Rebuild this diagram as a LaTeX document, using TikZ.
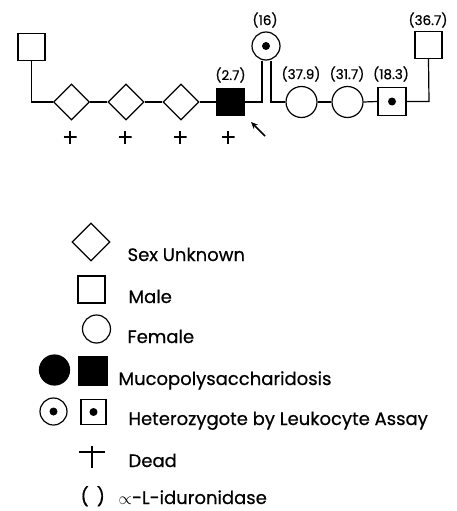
\documentclass[tikz,border=0pt]{standalone}
\usepackage{fontspec}
\setmainfont{Poppins}
\newfontfamily\legfont{Poppins}[FakeBold=0.6]
\usetikzlibrary{shapes.geometric,arrows.meta}
\begin{document}
\begin{tikzpicture}[x=1pt,y=-1pt,line width=1.2pt,
  sqbox/.style={draw,rectangle,inner sep=0pt,minimum size=#1},
  circ/.style={draw,circle,inner sep=0pt,minimum size=#1},
  dia/.style={draw,diamond,inner sep=0pt,minimum size=#1},
  dotc/.style={fill,circle,inner sep=0pt,minimum size=8pt},
  val/.style={font=\legfont\fontsize{13.5}{15}\selectfont},
  leg/.style={anchor=base west,inner sep=0pt,font=\legfont\fontsize{18}{21}\selectfont},
  deadmark/.style={inner sep=0pt,minimum size=13pt,path picture={
     \draw[line width=1.1pt] (path picture bounding box.west) -- (path picture bounding box.east);
     \draw[line width=1.1pt] (path picture bounding box.north) -- (path picture bounding box.south);}}
]
\useasboundingbox (0,0) rectangle (456,511);
% pedigree
\node[sqbox=27pt] (sqA) at (31.5,47) {};
\node[dia=36pt] (d1) at (71.5,102) {};
\node[dia=36pt] (d2) at (126,102) {};
\node[dia=36pt] (d3) at (181,102) {};
\node[sqbox=27pt,fill] (fsq) at (230.5,102) {};
\node[circ=28pt] (c16) at (266,46) {};
\node[dotc] (c16d) at (266,46) {};
\node[circ=31pt] (c1) at (301.5,102) {};
\node[circ=31pt] (c2) at (347.5,102) {};
\node[sqbox=28pt] (sqd) at (392,101.5) {};
\node[dotc] (sqdd) at (392,101.5) {};
\node[sqbox=27pt] (sqB) at (428.5,45) {};
\coordinate (j1) at (31.5,102);
\coordinate (j2) at (262,102);
\coordinate (j3) at (271,102);
\coordinate (j4) at (429,101.5);
\draw (sqA.south) -- (j1) -- (d1.west);
\draw (d1.east) -- (d2.west);
\draw (d2.east) -- (d3.west);
\draw (d3.east) -- (fsq.west);
\draw (fsq.east) -- (j2) -- (j2 |- c16.south);
\draw (j3 |- c16.south) -- (j3) -- (c1.west);
\draw (c1.east) -- (c2.west);
\draw (c2.east) -- (sqd.west);
\draw (sqd.east) -- (j4) -- (sqB.south);
\node[val] (l27) at (230.5,75) {(2.7)};
\node[val] (l16) at (265,20) {(16)};
\node[val] (l379) at (301,74) {(37.9)};
\node[val] (l317) at (347,74) {(31.7)};
\node[val] (l183) at (391,74) {(18.3)};
\node[val] (l367) at (428,20) {(36.7)};
\node[deadmark] (p1) at (70,137) {};
\node[deadmark] (p2) at (125,137) {};
\node[deadmark] (p3) at (180,137) {};
\node[deadmark] (p4) at (228,137) {};
\coordinate (atail) at (265,136);
\coordinate (ahead) at (251,122);
\draw[line width=1.5pt,-{Stealth[length=7pt,width=6pt]}] (atail) -- (ahead);
% legend
\node[dia=38pt] (ld) at (91,242) {};
\node[sqbox=27pt] (lsq) at (91.5,289.5) {};
\node[circ=28pt] (lc) at (96.5,329) {};
\node[circ=30pt,fill] (lfc) at (54.5,370) {};
\node[sqbox=28pt,fill] (lfs) at (93,371) {};
\node[circ=27pt] (ldc) at (53.5,411.5) {};
\node[dotc] (ldcd) at (53.5,411.5) {};
\node[sqbox=25pt] (lds) at (93.5,412) {};
\node[dotc] (ldsd) at (93.5,412) {};
\coordinate (pl) at (79,452);
\coordinate (pr) at (105,452);
\coordinate (pt) at (92,446);
\coordinate (pb) at (92,468);
\draw[line width=1.1pt] (pl) -- (pr);
\draw[line width=1.1pt] (pt) -- (pb);
\node[leg] (tparen) at (80,503) {(\hspace{8pt})};
\node[leg] (t1) at (127,261) {Sex Unknown};
\node[leg] (t2) at (128,303) {Male};
\node[leg] (t3) at (127,343) {Female};
\node[leg] (t4) at (118,385) {Mucopolysaccharidosis};
\node[leg] (t5) at (128,425) {Heterozygote by Leukocyte Assay};
\node[leg] (t6) at (128,467) {Dead};
\node[leg] (t7) at (118,504) {$\propto$-L-iduronidase};
\end{tikzpicture}
\end{document}
